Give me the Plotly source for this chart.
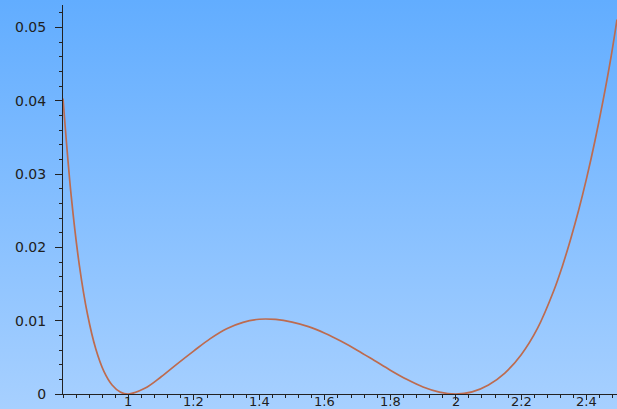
import base64
import plotly.graph_objects as go

# Sampled curve: x positions and function values
x_vals = [0.800, 0.825, 0.850, 0.875, 0.900, 0.925, 0.950, 0.975, 1.000,
          1.050, 1.100, 1.150, 1.200, 1.250, 1.300, 1.350, 1.400, 1.450,
          1.500, 1.550, 1.600, 1.650, 1.700, 1.750, 1.800, 1.850, 1.900,
          1.950, 2.000, 2.050, 2.100, 2.150, 2.200, 2.250, 2.300, 2.325,
          2.350, 2.375, 2.400, 2.425, 2.450, 2.475, 2.4926]
y_vals = [0.04032, 0.02706, 0.01756, 0.01084, 0.00617, 0.00309, 0.00123,
          0.00027, 0.00000, 0.00077, 0.00235, 0.00415, 0.00589, 0.00756,
          0.00891, 0.00978, 0.01020, 0.01017, 0.00981, 0.00919, 0.00829,
          0.00719, 0.00595, 0.00461, 0.00325, 0.00200, 0.00096, 0.00026,
          0.00000, 0.00029, 0.00123, 0.00286, 0.00536, 0.00898, 0.01415,
          0.01734, 0.02099, 0.02499, 0.02948, 0.03448, 0.04002, 0.04614,
          0.05109]

# Axis ticks
x_ticks = [1.0, 1.2, 1.4, 1.6, 1.8, 2.0, 2.2, 2.4]
x_tick_text = ["1", "1.2", "1.4", "1.6", "1.8", "2", "2.2", "2.4"]
y_ticks = [0.0, 0.01, 0.02, 0.03, 0.04, 0.05]
y_tick_text = ["0", "0.01", "0.02", "0.03", "0.04", "0.05"]

W, H = 617, 409
ML, MR, MT, MB = 63, 0, 5, 15
PW, PH = W - ML - MR, H - MT - MB
X_RANGE = [0.8, 0.8 + PW / 327.3]

# Vertical background gradient as an inline SVG image
svg = (
    '<svg xmlns="http://www.w3.org/2000/svg" width="100" height="100" '
    'preserveAspectRatio="none" viewBox="0 0 100 100">'
    '<defs><linearGradient id="g" x1="0" y1="0" x2="0" y2="1">'
    '<stop offset="0" stop-color="#62adff"/>'
    '<stop offset="1" stop-color="#a7d0ff"/>'
    '</linearGradient></defs>'
    '<rect x="0" y="0" width="100" height="100" fill="url(#g)"/></svg>'
)
bg_src = "data:image/svg+xml;base64," + base64.b64encode(svg.encode()).decode()

fig = go.Figure()
fig.add_trace(go.Scatter(
    x=x_vals, y=y_vals, mode="lines",
    line=dict(color="#bd6b4f", width=1.7, shape="spline", smoothing=1.0),
    hoverinfo="skip", showlegend=False, cliponaxis=True,
))

tick_font = dict(family="DejaVu Sans, Arial, sans-serif", size=14, color="#202020")
x_font = dict(family="DejaVu Sans, Arial, sans-serif", size=13, color="#202020")
tick_col = "#222222"

# x tick labels hug the axis line closely, so they are placed as
# annotations anchored at each tick value just under the axis
x_labels = [
    dict(x=v, y=0, xref="x", yref="paper", text=t, showarrow=False,
         xanchor="center", yanchor="top", yshift=1, font=x_font,
         borderpad=0)
    for v, t in zip(x_ticks, x_tick_text)
]

fig.update_layout(
    width=W, height=H,
    margin=dict(l=ML, r=MR, t=MT, b=MB, pad=0, autoexpand=False),
    paper_bgcolor="rgba(0,0,0,0)",
    plot_bgcolor="rgba(0,0,0,0)",
    images=[dict(
        source=bg_src, xref="paper", yref="paper",
        x=-ML / PW, y=1 + MT / PH,
        sizex=W / PW, sizey=H / PH,
        sizing="stretch", xanchor="left", yanchor="top",
        layer="below",
    )],
    annotations=x_labels,
    xaxis=dict(
        range=X_RANGE,
        tickvals=x_ticks, showticklabels=False,
        ticks="outside", ticklen=5, tickwidth=1, tickcolor=tick_col,
        minor=dict(dtick=0.04, tick0=0.8, ticks="outside", ticklen=3,
                   tickwidth=1, tickcolor=tick_col),
        showline=True, linecolor=tick_col, linewidth=1,
        showgrid=False, zeroline=False, automargin=False,
    ),
    yaxis=dict(
        range=[0, PH / 7330],
        tickvals=y_ticks, ticktext=y_tick_text,
        ticks="outside", ticklen=7, tickwidth=1, tickcolor=tick_col,
        minor=dict(dtick=0.002, tick0=0, ticks="outside", ticklen=3,
                   tickwidth=1, tickcolor=tick_col),
        showline=True, linecolor=tick_col, linewidth=1,
        showgrid=False, zeroline=False, automargin=False,
        tickfont=tick_font, ticklabelstandoff=6,
    ),
)

fig.write_html("out.html")
